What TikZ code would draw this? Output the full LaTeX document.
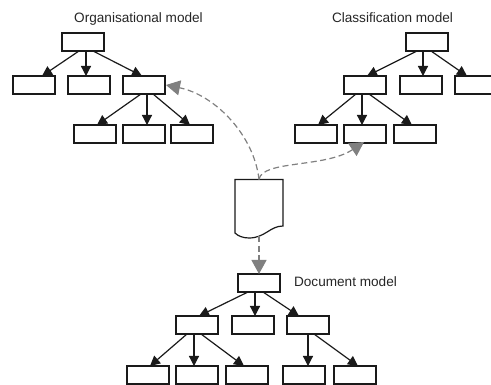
\documentclass[tikz,border=0pt]{standalone}
\usepackage{fontspec}
\setmainfont{Liberation Sans}
\usetikzlibrary{arrows.meta}
\definecolor{boxline}{HTML}{1A1A1A}
\definecolor{flow}{HTML}{808080}
\tikzset{
 x=1pt,y=-1pt,
 modelbox/.style={draw=boxline,line width=1.4pt,minimum width=42pt,minimum height=18pt,inner sep=0pt,outer sep=0pt,fill=white},
 tree/.style={draw=boxline,line width=1.2pt,-{Triangle[width=10pt,length=10pt]}},
 flowline/.style={draw=flow,line width=1.2pt,dash pattern=on 6pt off 3.5pt,-{Triangle[width=15pt,length=14pt]}},
 caption/.style={text=black!85,font=\fontsize{13.6pt}{16pt}\selectfont,inner sep=0pt},
 docspace/.style={minimum width=48pt,minimum height=57pt,inner sep=0pt,outer sep=0pt}
}
\newcommand{\edge}[4]{\draw[tree] ([xshift=#3pt]#1.south) -- ([xshift=#4pt]#2.north);}
\begin{document}
\begin{tikzpicture}
\useasboundingbox (0,0) rectangle (491,385);
\node[caption] (ct1) at (138.5,19) {Organisational model};
\node[caption] (ct2) at (392.5,18) {Classification model};
\node[caption] (ct3) at (345.5,282) {Document model};
% organisational
\node[modelbox] (o) at (83,42) {};
\node[modelbox] (o1) at (34,85) {};
\node[modelbox] (o2) at (89,85) {};
\node[modelbox] (o3) at (144,85) {};
\node[modelbox] (o4) at (95,134) {};
\node[modelbox] (o5) at (144,134) {};
\node[modelbox] (o6) at (192,134) {};
\edge{o}{o1}{-4}{8}
\edge{o}{o2}{3}{-3}
\edge{o}{o3}{10}{-2}
\edge{o3}{o4}{-3}{2}
\edge{o3}{o5}{3}{3}
\edge{o3}{o6}{9}{-2}
% classification
\node[modelbox] (c) at (427,42) {};
\node[modelbox] (c1) at (365,85) {};
\node[modelbox] (c2) at (421,85) {};
\node[modelbox] (c3) at (476,85) {};
\node[modelbox] (c4) at (316,134) {};
\node[modelbox] (c5) at (365,134) {};
\node[modelbox] (c6) at (415,134) {};
\edge{c}{c1}{-10}{2}
\edge{c}{c2}{-4}{2}
\edge{c}{c3}{4}{-9}
\edge{c1}{c4}{-9}{2}
\edge{c1}{c5}{-3}{-3}
\edge{c1}{c6}{4}{-3}
% document model
\node[modelbox] (d) at (259,283) {};
\node[modelbox] (d1) at (197,325) {};
\node[modelbox] (d2) at (253,325) {};
\node[modelbox] (d3) at (308,325) {};
\node[modelbox] (d4) at (148,375) {};
\node[modelbox] (d5) at (197,375) {};
\node[modelbox] (d6) at (247,375) {};
\node[modelbox] (d7) at (304,375) {};
\node[modelbox] (d8) at (355,375) {};
\edge{d}{d1}{-11}{2}
\edge{d}{d2}{-4}{2}
\edge{d}{d3}{4}{-9}
\edge{d1}{d4}{-10}{2}
\edge{d1}{d5}{-3}{-3}
\edge{d1}{d6}{4}{-3}
\edge{d3}{d7}{0}{4}
\edge{d3}{d8}{6}{3}
% document
\node[docspace] (doc) at (259,208) {};
\draw[boxline,line width=1.2pt,fill=white] (doc.north west) -- (doc.north east) -- (283,226)
  .. controls (270,226) and (265,238) .. (249,238)
  .. controls (243,238) and (238,236) .. (235,233) -- cycle;
\draw[flowline] (doc.north) .. controls (254,135) and (215,95) .. ([xshift=1pt]o3.east);
\draw[flowline] (doc.north) .. controls (262,160) and (325,168) .. ([xshift=-1pt,yshift=1pt]c5.south);
\draw[flowline] (doc.south) -- (d.north);
\end{tikzpicture}
\end{document}
